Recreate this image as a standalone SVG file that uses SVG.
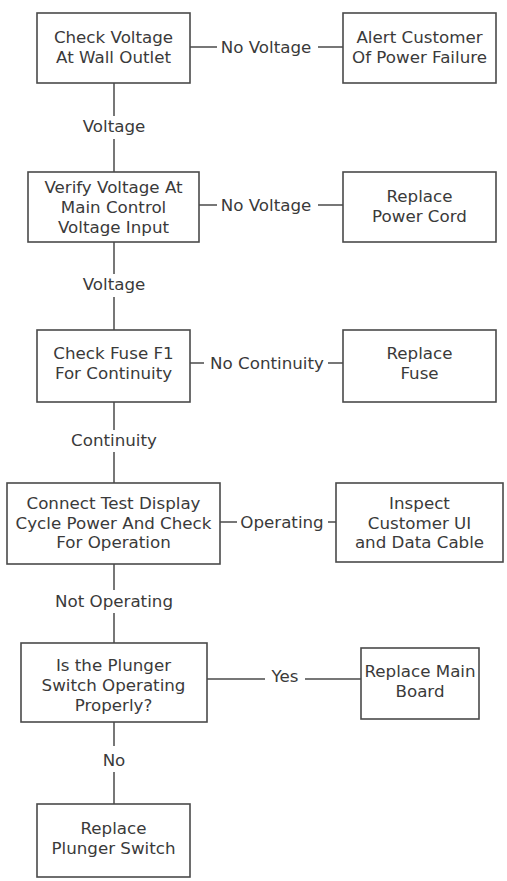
<svg xmlns="http://www.w3.org/2000/svg" width="507" height="881" viewBox="0 0 507 881">
<style>
rect.box{fill:#fff;stroke:#4a4a4a;stroke-width:1.6}
text{font-family:"DejaVu Sans",Verdana,sans-serif;font-size:16.7px;fill:#3a3a3a;text-anchor:middle}
.conn line{stroke:#4a4a4a;stroke-width:1.5}
</style>
<rect width="507" height="881" fill="#fff"/>
<g class="conn" id="connectors">
<line x1="114" y1="83" x2="114" y2="116"/>
<line x1="114" y1="139" x2="114" y2="172"/>
<line x1="114" y1="242" x2="114" y2="274"/>
<line x1="114" y1="297" x2="114" y2="330"/>
<line x1="114" y1="402" x2="114" y2="430"/>
<line x1="114" y1="452" x2="114" y2="483"/>
<line x1="114" y1="564" x2="114" y2="590"/>
<line x1="114" y1="613" x2="114" y2="643"/>
<line x1="114" y1="722" x2="114" y2="746"/>
<line x1="114" y1="772" x2="114" y2="804"/>
<line x1="190" y1="47" x2="217" y2="47"/>
<line x1="318" y1="47" x2="343" y2="47"/>
<line x1="199" y1="205" x2="217" y2="205"/>
<line x1="318" y1="205" x2="343" y2="205"/>
<line x1="190" y1="363" x2="204" y2="363"/>
<line x1="328" y1="363" x2="343" y2="363"/>
<line x1="220" y1="522" x2="237" y2="522"/>
<line x1="328" y1="522" x2="336" y2="522"/>
<line x1="207" y1="679" x2="265" y2="679"/>
<line x1="305" y1="679" x2="361" y2="679"/>
<text x="114" y="132">Voltage</text>
<text x="114" y="290">Voltage</text>
<text x="114" y="446">Continuity</text>
<text x="114" y="607">Not Operating</text>
<text x="114" y="766">No</text>
<text x="266" y="53">No Voltage</text>
<text x="266" y="211">No Voltage</text>
<text x="267" y="369">No Continuity</text>
<text x="282" y="528">Operating</text>
<text x="285" y="682">Yes</text>
</g>
<g id="n1"><rect class="box" x="37" y="13" width="153" height="70"/><text x="113.5" y="43">Check Voltage</text><text x="113.5" y="63">At Wall Outlet</text></g>
<g id="n2"><rect class="box" x="343" y="13" width="153" height="70"/><text x="419.5" y="43">Alert Customer</text><text x="419.5" y="63">Of Power Failure</text></g>
<g id="n3"><rect class="box" x="28" y="172" width="171" height="70"/><text x="113.5" y="193">Verify Voltage At</text><text x="113.5" y="213">Main Control</text><text x="113.5" y="233">Voltage Input</text></g>
<g id="n4"><rect class="box" x="343" y="172" width="153" height="70"/><text x="419.5" y="202">Replace</text><text x="419.5" y="222">Power Cord</text></g>
<g id="n5"><rect class="box" x="37" y="330" width="153" height="72"/><text x="113.5" y="359">Check Fuse F1</text><text x="113.5" y="379">For Continuity</text></g>
<g id="n6"><rect class="box" x="343" y="330" width="153" height="72"/><text x="419.5" y="359">Replace</text><text x="419.5" y="379">Fuse</text></g>
<g id="n7"><rect class="box" x="7" y="483" width="213" height="81"/><text x="113.5" y="509">Connect Test Display</text><text x="113.5" y="529">Cycle Power And Check</text><text x="113.5" y="548">For Operation</text></g>
<g id="n8"><rect class="box" x="336" y="483" width="167" height="79"/><text x="419.5" y="509">Inspect</text><text x="419.5" y="529">Customer UI</text><text x="419.5" y="548">and Data Cable</text></g>
<g id="n9"><rect class="box" x="21" y="643" width="186" height="79"/><text x="113.5" y="671">Is the Plunger</text><text x="113.5" y="691">Switch Operating</text><text x="113.5" y="711">Properly?</text></g>
<g id="n10"><rect class="box" x="361" y="648" width="118" height="71"/><text x="420" y="677">Replace Main</text><text x="420" y="697">Board</text></g>
<g id="n11"><rect class="box" x="37" y="804" width="153" height="73"/><text x="113.5" y="834">Replace</text><text x="113.5" y="854">Plunger Switch</text></g>
</svg>
